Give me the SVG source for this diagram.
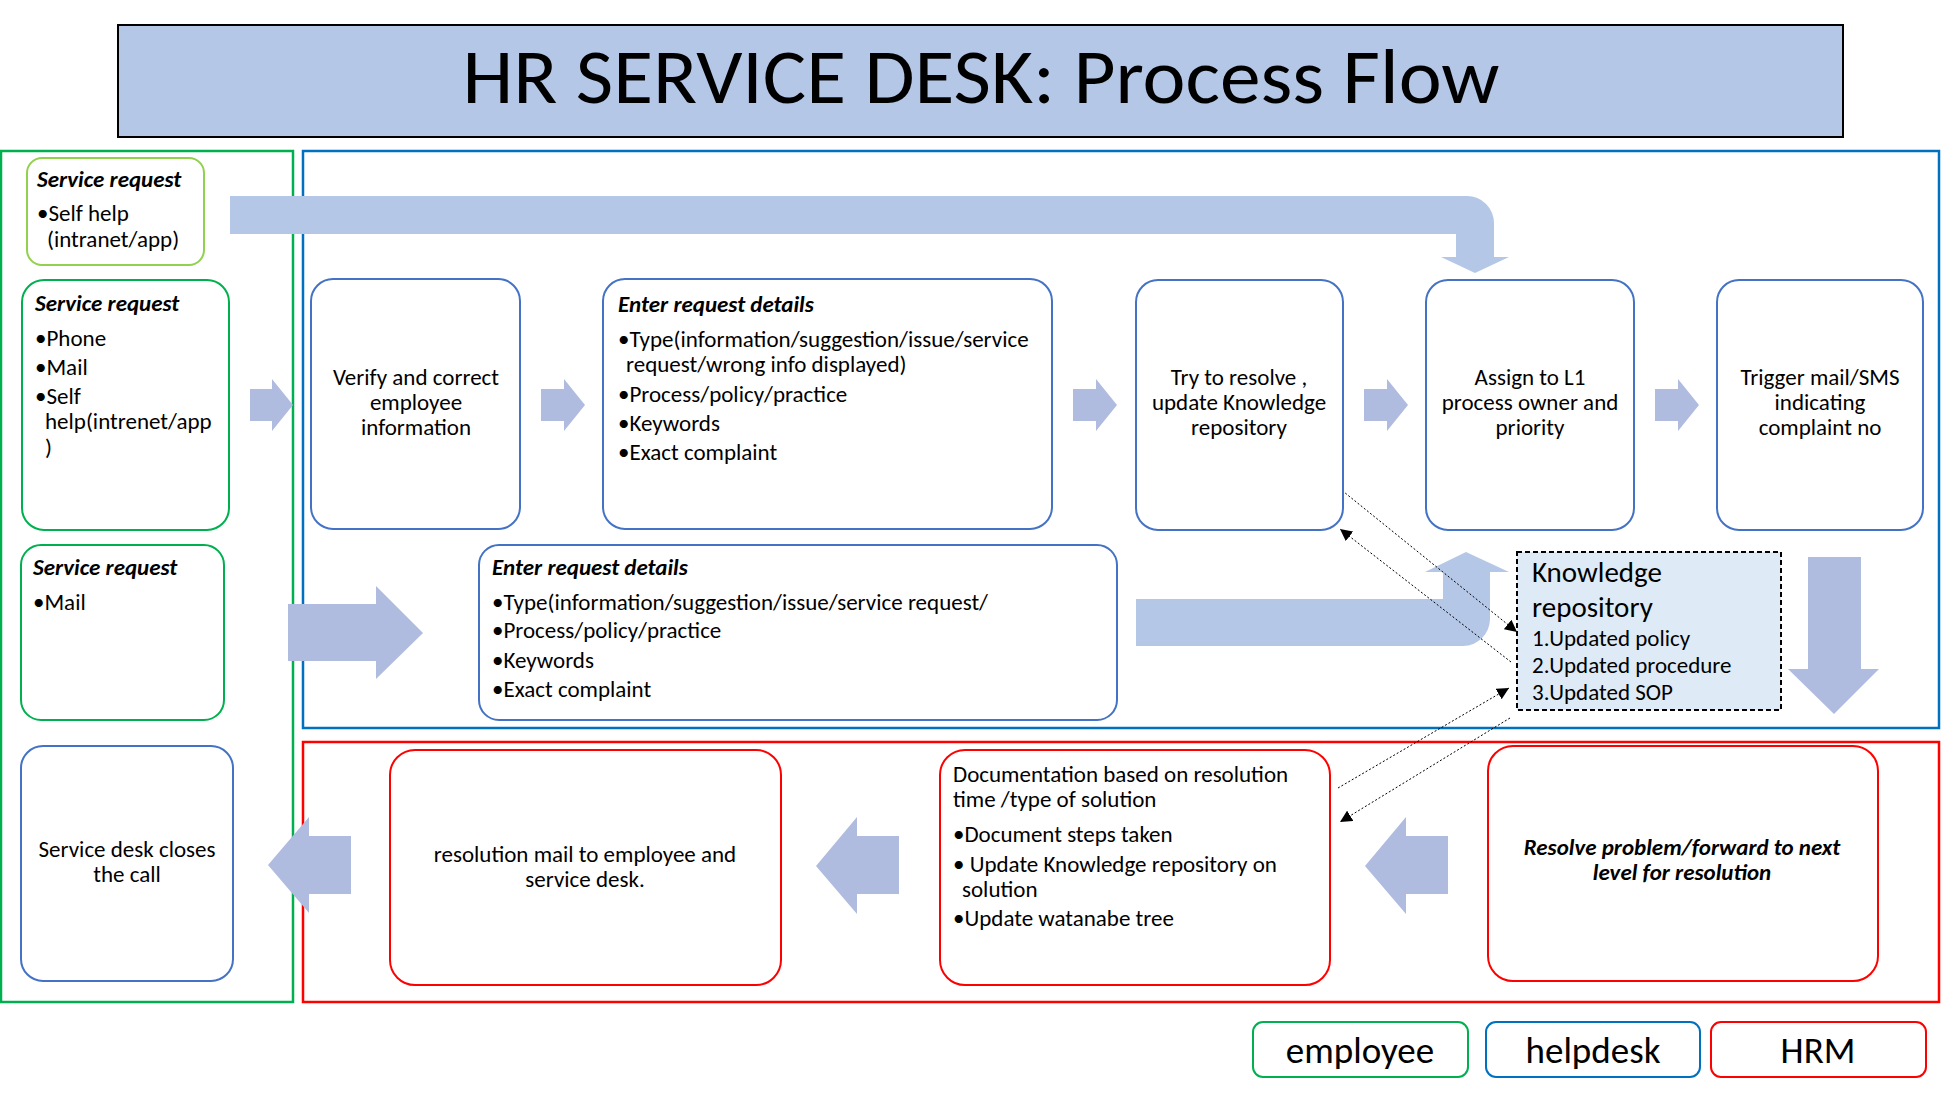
<svg xmlns="http://www.w3.org/2000/svg" width="1941" height="1095" viewBox="0 0 1941 1095">
<defs>
<marker id="ah" viewBox="0 0 10 10" refX="10" refY="5" markerWidth="12" markerHeight="12" markerUnits="userSpaceOnUse" orient="auto">
<path d="M0,0 L10,5 L0,10 Z" fill="#000"/>
</marker>
<style>
text{font-family:Carlito,Lato,"Liberation Sans",sans-serif;font-size:23px;fill:#000}
.c{text-anchor:middle}
.bi{font-weight:bold;font-style:italic}
.lane{fill:none;stroke-width:2.5}
.nb{fill:#fff;stroke:#4472C4;stroke-width:2}
.nr{fill:#fff;stroke:#FF0000;stroke-width:2}
.ng{fill:#fff;stroke:#00B050;stroke-width:2}
.arr{fill:#B0BCDF}
.bent{fill:#B4C7E7}
.dl{fill:none;stroke:#000;stroke-width:1;stroke-dasharray:2,2;marker-end:url(#ah)}
.leg{font-size:37px}
.kt{font-size:29px}
</style>
</defs>
<rect width="1941" height="1095" fill="#fff"/>

<g id="title">
<rect x="118" y="25" width="1725" height="112" fill="#B4C7E7" stroke="#000" stroke-width="2"/>
<text x="981" y="103" class="c" style="font-size:78px;font-weight:300" textLength="1037" lengthAdjust="spacingAndGlyphs">HR SERVICE DESK: Process Flow</text>
</g>

<g id="lanes">
<rect x="1" y="151" width="292" height="851" class="lane" stroke="#00B050"/>
<rect x="303" y="151" width="1636" height="577" class="lane" stroke="#0070C0"/>
<rect x="303" y="742" width="1636" height="260" class="lane" stroke="#FF0000"/>
</g>

<g id="connectors">
<path class="bent" d="M230,196 H1467 A27,27 0 0 1 1494,223 V257 H1509 L1475,273 L1441,257 H1456 V234 H230 Z"/>
<path class="bent" d="M1136,599 H1443 V572 H1425 L1466,552 L1509,572 H1490 V619 A27,27 0 0 1 1463,646 H1136 Z"/>
<polygon class="arr" points="250,389 272,389 272,379 293,405 272,431 272,421 250,421"/>
<polygon class="arr" points="541,389 564,389 564,379 585,405 564,431 564,421 541,421"/>
<polygon class="arr" points="1073,389 1096,389 1096,379 1117,405 1096,431 1096,421 1073,421"/>
<polygon class="arr" points="1364,389 1387,389 1387,379 1408,405 1387,431 1387,421 1364,421"/>
<polygon class="arr" points="1655,389 1678,389 1678,379 1699,405 1678,431 1678,421 1655,421"/>
<polygon class="arr" points="288,604 376,604 376,586 423,633 376,679 376,661 288,661"/>
<polygon class="arr" points="1808,557 1861,557 1861,669 1879,669 1834,714 1788,669 1808,669"/>
<polygon class="arr" points="1448,836 1406,836 1406,817 1365,866 1406,914 1406,894 1448,894"/>
<polygon class="arr" points="899,836 857,836 857,817 816,866 857,914 857,894 899,894"/>
<polygon class="arr" points="351,836 309,836 309,817 268,865 309,913 309,894 351,894"/>
<line class="dl" x1="1339" y1="488" x2="1517" y2="632"/>
<line class="dl" x1="1511" y1="662" x2="1340" y2="529"/>
<line class="dl" x1="1338" y1="788" x2="1509" y2="688"/>
<line class="dl" x1="1510" y1="718" x2="1340" y2="822"/>
</g>

<g id="sr-selfhelp">
<rect x="27" y="158" width="177" height="107" rx="15" fill="#fff" stroke="#92D050" stroke-width="2"/>
<text x="37" y="187" class="bi">Service request</text>
<text x="37" y="221">•Self help</text>
<text x="47" y="247">(intranet/app)</text>
</g>

<g id="sr-phone">
<rect x="22" y="280" width="207" height="250" rx="22" class="ng"/>
<text x="35" y="311" class="bi">Service request</text>
<text x="35" y="346">•Phone</text>
<text x="35" y="375">•Mail</text>
<text x="35" y="404">•Self</text>
<text x="45" y="429">help(intrenet/app</text>
<text x="45" y="455">)</text>
</g>

<g id="sr-mail">
<rect x="21" y="545" width="203" height="175" rx="20" class="ng"/>
<text x="33" y="575" class="bi">Service request</text>
<text x="33" y="610">•Mail</text>
</g>

<g id="close-call">
<rect x="21" y="746" width="212" height="235" rx="22" class="nb"/>
<text x="127" y="857" class="c">Service desk closes</text>
<text x="127" y="882" class="c">the call</text>
</g>

<g id="verify">
<rect x="311" y="279" width="209" height="250" rx="22" class="nb"/>
<text x="416" y="385" class="c">Verify and correct</text>
<text x="416" y="410" class="c">employee</text>
<text x="416" y="435" class="c">information</text>
</g>

<g id="enter-details-1">
<rect x="603" y="279" width="449" height="250" rx="22" class="nb"/>
<text x="618" y="312" class="bi">Enter request details</text>
<text x="618" y="347">•Type(information/suggestion/issue/service</text>
<text x="626" y="372">request/wrong info displayed)</text>
<text x="618" y="402">•Process/policy/practice</text>
<text x="618" y="431">•Keywords</text>
<text x="618" y="460">•Exact complaint</text>
</g>

<g id="try-resolve">
<rect x="1136" y="280" width="207" height="250" rx="22" class="nb"/>
<text x="1239" y="385" class="c">Try to resolve ,</text>
<text x="1239" y="410" class="c">update Knowledge</text>
<text x="1239" y="435" class="c">repository</text>
</g>

<g id="assign">
<rect x="1426" y="280" width="208" height="250" rx="22" class="nb"/>
<text x="1530" y="385" class="c">Assign to L1</text>
<text x="1530" y="410" class="c">process owner and</text>
<text x="1530" y="435" class="c">priority</text>
</g>

<g id="trigger">
<rect x="1717" y="280" width="206" height="250" rx="22" class="nb"/>
<text x="1820" y="385" class="c">Trigger mail/SMS</text>
<text x="1820" y="410" class="c">indicating</text>
<text x="1820" y="435" class="c">complaint no</text>
</g>

<g id="enter-details-2">
<rect x="479" y="545" width="638" height="175" rx="20" class="nb"/>
<text x="492" y="575" class="bi">Enter request details</text>
<text x="492" y="610">•Type(information/suggestion/issue/service request/</text>
<text x="492" y="638">•Process/policy/practice</text>
<text x="492" y="668">•Keywords</text>
<text x="492" y="697">•Exact complaint</text>
</g>

<g id="knowledge-repo">
<rect x="1517" y="552" width="264" height="158" fill="#DEEBF7" stroke="#000" stroke-width="2" stroke-dasharray="5,3"/>
<text x="1532" y="582" class="kt">Knowledge</text>
<text x="1532" y="617" class="kt">repository</text>
<text x="1532" y="646">1.Updated policy</text>
<text x="1532" y="673">2.Updated procedure</text>
<text x="1532" y="700">3.Updated SOP</text>
</g>

<g id="resolution-mail">
<rect x="390" y="750" width="391" height="235" rx="25" class="nr"/>
<text x="585" y="862" class="c">resolution mail to employee and</text>
<text x="585" y="887" class="c">service desk.</text>
</g>

<g id="documentation">
<rect x="940" y="750" width="390" height="235" rx="25" class="nr"/>
<text x="953" y="782">Documentation based on resolution</text>
<text x="953" y="807">time /type of solution</text>
<text x="953" y="842">•Document steps taken</text>
<text x="953" y="872">• Update Knowledge repository on</text>
<text x="962" y="897">solution</text>
<text x="953" y="926">•Update watanabe tree</text>
</g>

<g id="resolve">
<rect x="1488" y="746" width="390" height="235" rx="25" class="nr"/>
<text x="1682" y="855" class="c bi">Resolve problem/forward to next</text>
<text x="1682" y="880" class="c bi">level for resolution</text>
</g>

<g id="legend-employee">
<rect x="1253" y="1022" width="215" height="55" rx="10" fill="#fff" stroke="#00B050" stroke-width="2"/>
<text x="1360" y="1063" class="c leg">employee</text>
</g>
<g id="legend-helpdesk">
<rect x="1486" y="1022" width="214" height="55" rx="10" fill="#fff" stroke="#0070C0" stroke-width="2"/>
<text x="1593" y="1063" class="c leg">helpdesk</text>
</g>
<g id="legend-hrm">
<rect x="1711" y="1022" width="215" height="55" rx="10" fill="#fff" stroke="#FF0000" stroke-width="2"/>
<text x="1818" y="1063" class="c leg">HRM</text>
</g>
</svg>
